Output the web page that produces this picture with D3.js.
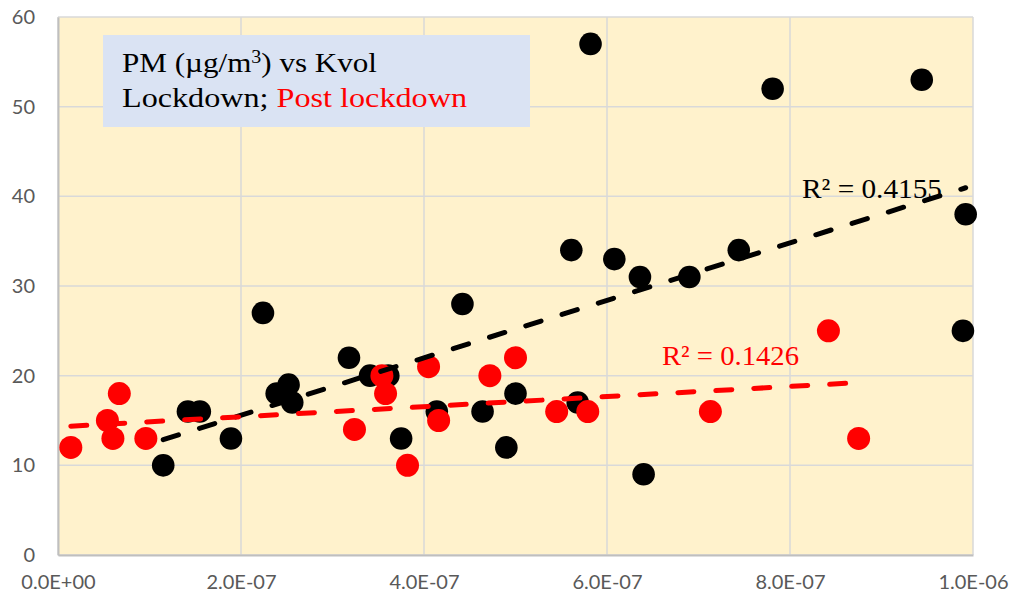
<!DOCTYPE html>
<html>
<head>
<meta charset="utf-8">
<script src="https://cdn.jsdelivr.net/npm/d3@7"></script>
<style>
  html, body { margin: 0; padding: 0; background: #ffffff; }
  svg { display: block; }
</style>
</head>
<body>
<svg id="chart" width="1015" height="599"></svg>
<script>
// Lockdown series (Kvol, PM)
const lockKvol = [1.15e-7, 1.42e-7, 1.55e-7, 1.89e-7, 2.24e-7, 2.39e-7, 2.52e-7, 2.56e-7,
  3.18e-7, 3.41e-7, 3.61e-7, 3.75e-7, 4.14e-7, 4.42e-7, 4.64e-7, 4.90e-7, 5.00e-7,
  5.61e-7, 5.68e-7, 5.82e-7, 6.08e-7, 6.36e-7, 6.40e-7, 6.90e-7, 7.44e-7, 7.81e-7,
  9.44e-7, 9.89e-7, 9.92e-7];
const lockPM = [10, 16, 16, 13, 27, 18, 19, 17,
  22, 20, 20, 13, 16, 28, 16, 12, 18,
  34, 17, 57, 33, 31, 9, 31, 34, 52,
  53, 25, 38];

// Post-lockdown series (Kvol, PM)
const postKvol = [1.4e-8, 5.4e-8, 6.0e-8, 6.7e-8, 9.6e-8, 3.24e-7, 3.54e-7, 3.58e-7,
  3.82e-7, 4.05e-7, 4.16e-7, 4.72e-7, 5.00e-7, 5.45e-7, 5.79e-7, 7.13e-7, 8.42e-7, 8.75e-7];
const postPM = [12, 15, 13, 18, 13, 14, 20, 18,
  10, 21, 15, 20, 22, 16, 16, 16, 25, 13];

const xTicks = [0, 2e-7, 4e-7, 6e-7, 8e-7, 1e-6];
const yTicks = [0, 10, 20, 30, 40, 50, 60];
const lockR2Label = "R² = 0.4155";
const postR2Label = "R² = 0.1426";

const svg = d3.select("#chart");
const plot = { left: 58, top: 17, right: 973, bottom: 555 };

const x = d3.scaleLinear().domain([0, 1e-6]).range([plot.left, plot.right]);
const y = d3.scaleLinear().domain([0, 60]).range([plot.bottom, plot.top]);

// plot background
svg.append("rect")
  .attr("x", plot.left).attr("y", plot.top)
  .attr("width", plot.right - plot.left).attr("height", plot.bottom - plot.top)
  .attr("fill", "#fff2cc");

// gridlines
const grid = svg.append("g").attr("stroke", "#d9d9d9").attr("stroke-width", 1.5);
grid.selectAll("line.v").data(xTicks).join("line")
  .attr("x1", d => x(d)).attr("x2", d => x(d))
  .attr("y1", plot.top).attr("y2", plot.bottom);
grid.selectAll("line.h").data(yTicks).join("line")
  .attr("x1", plot.left).attr("x2", plot.right)
  .attr("y1", d => y(d)).attr("y2", d => y(d));

// axes
const fmt = d => d === 0 ? "0.0E+00" : d3.format(".1e")(d).replace(/e-(\d)$/, "E-0$1").replace("e", "E");
const xAxis = d3.axisBottom(x).tickValues(xTicks).tickSize(0).tickPadding(20).tickFormat(fmt);
const yAxis = d3.axisLeft(y).tickValues(yTicks).tickSize(0).tickPadding(23).tickFormat(d3.format("d"));

const gx = svg.append("g").attr("transform", `translate(0,${plot.bottom})`).call(xAxis);
const gy = svg.append("g").attr("transform", `translate(${plot.left},0)`).call(yAxis);
[gx, gy].forEach(g => {
  g.select(".domain").attr("stroke", "#bfbfbf").attr("stroke-width", 2);
  g.selectAll("text").attr("fill", "#595959")
    .style("font-family", "Lato, 'Open Sans', sans-serif").style("font-size", "20px");
});

// markers
svg.append("g").selectAll("circle").data(lockKvol.map((k, i) => [k, lockPM[i]])).join("circle")
  .attr("cx", d => x(d[0])).attr("cy", d => y(d[1])).attr("r", 11.3).attr("fill", "#000000");
svg.append("g").selectAll("circle").data(postKvol.map((k, i) => [k, postPM[i]])).join("circle")
  .attr("cx", d => x(d[0])).attr("cy", d => y(d[1])).attr("r", 11.5).attr("fill", "#ff0000");

// least-squares trend lines
function fit(xs, ys) {
  const mx = d3.mean(xs), my = d3.mean(ys);
  let sxy = 0, sxx = 0;
  xs.forEach((v, i) => { sxy += (v - mx) * (ys[i] - my); sxx += (v - mx) * (v - mx); });
  const b = sxy / sxx, a = my - b * mx;
  return v => a + b * v;
}
function trend(xs, ys, color) {
  const f = fit(xs, ys);
  const ext = d3.extent(xs);
  svg.append("line")
    .attr("x1", x(ext[0])).attr("y1", y(f(ext[0])))
    .attr("x2", x(ext[1])).attr("y2", y(f(ext[1])))
    .attr("stroke", color).attr("stroke-width", 5)
    .attr("stroke-linecap", "round").attr("stroke-dasharray", "16 22");
}
trend(lockKvol, lockPM, "#000000");
trend(postKvol, postPM, "#ff0000");

// R² labels
const serif = "'Liberation Serif', 'Times New Roman', serif";
svg.append("text").attr("x", 802).attr("y", 198).text(lockR2Label)
  .attr("textLength", 140).attr("lengthAdjust", "spacingAndGlyphs")
  .attr("fill", "#000000").style("font-family", serif).style("font-size", "28px");
svg.append("text").attr("x", 662).attr("y", 365).text(postR2Label)
  .attr("textLength", 137).attr("lengthAdjust", "spacingAndGlyphs")
  .attr("fill", "#ff0000").style("font-family", serif).style("font-size", "28px");

// title box
svg.append("rect").attr("x", 103).attr("y", 35).attr("width", 427).attr("height", 92)
  .attr("fill", "#dae3f3");
const t1 = svg.append("text").attr("x", 122).attr("y", 72)
  .attr("textLength", 255).attr("lengthAdjust", "spacingAndGlyphs")
  .style("font-family", serif).style("font-size", "28px").attr("fill", "#000000");
t1.append("tspan").text("PM (µg/m");
t1.append("tspan").text("3").attr("dy", -9).style("font-size", "18px");
t1.append("tspan").text(") vs Kvol").attr("dy", 9);
const t2 = svg.append("text").attr("x", 122).attr("y", 107)
  .attr("textLength", 345).attr("lengthAdjust", "spacingAndGlyphs")
  .style("font-family", serif).style("font-size", "28px").attr("fill", "#000000");
t2.append("tspan").text("Lockdown; ");
t2.append("tspan").text("Post lockdown").attr("fill", "#ff0000");
</script>
</body>
</html>
